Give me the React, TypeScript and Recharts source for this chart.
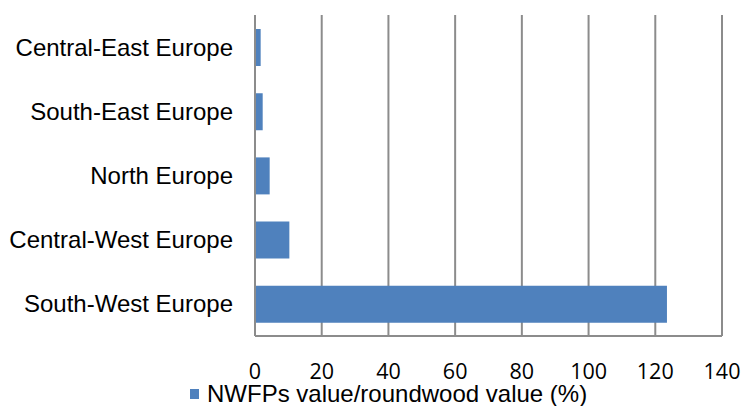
import { BarChart, Bar, XAxis, YAxis, CartesianGrid, Legend } from "recharts";

const regions = [
  "Central-East Europe",
  "South-East Europe",
  "North Europe",
  "Central-West Europe",
  "South-West Europe",
];
const ratioValues = [1.7, 2.3, 4.4, 10.3, 123.5];
const xTicks = [0, 20, 40, 60, 80, 100, 120, 140];
const seriesName = "NWFPs value/roundwood value (%)";

const chartData = regions.map((region, i) => ({
  region,
  value: ratioValues[i],
}));

const AXIS_GRAY = "#8c8c8c";
const BAR_BLUE = "#4f81bd";

function LegendContent({ payload }: any) {
  return (
    <div style={{ display: "flex", flexDirection: "column" }}>
      {(payload || []).map((entry: any, i: number) => (
        <div key={i} style={{ display: "flex", alignItems: "center" }}>
          <span
            style={{
              display: "inline-block",
              width: 9,
              height: 10,
              background: entry.color,
              marginRight: 8,
            }}
          />
          <span
            style={{
              color: "#000",
              fontFamily: "'Liberation Sans', Arial, sans-serif",
              fontSize: 24,
              lineHeight: "18px",
            }}
          >
            {entry.value}
          </span>
        </div>
      ))}
    </div>
  );
}

export default function App() {
  return (
    <div style={{ position: "absolute", left: 0, top: 0, background: "#fff" }}>
      <BarChart
        width={745}
        height={406}
        data={chartData}
        layout="vertical"
        margin={{ top: 15, right: 23, bottom: 0, left: 0 }}
      >
        <CartesianGrid horizontal={false} stroke={AXIS_GRAY} strokeWidth={2} />
        <XAxis
          type="number"
          domain={[0, 140]}
          ticks={xTicks}
          interval={0}
          height={70}
          axisLine={{ stroke: AXIS_GRAY, strokeWidth: 2 }}
          tickLine={false}
          tickSize={6}
          tickMargin={22}
          tick={{
            fill: "#000",
            fontSize: 21.5,
            fontFamily: "'Open Sans', sans-serif",
          }}
        />
        <YAxis
          type="category"
          dataKey="region"
          width={255}
          axisLine={{ stroke: AXIS_GRAY, strokeWidth: 2 }}
          tickLine={false}
          tickSize={6}
          tickMargin={16}
          tick={{
            fill: "#000",
            fontSize: 24,
            fontFamily: "'Liberation Sans', Arial, sans-serif",
          }}
        />
        <Legend
          verticalAlign="middle"
          align="center"
          content={<LegendContent />}
          wrapperStyle={{ left: 190, top: 385, width: "auto" }}
        />
        <Bar
          dataKey="value"
          name={seriesName}
          fill={BAR_BLUE}
          barSize={37}
          isAnimationActive={false}
        />
      </BarChart>
    </div>
  );
}
